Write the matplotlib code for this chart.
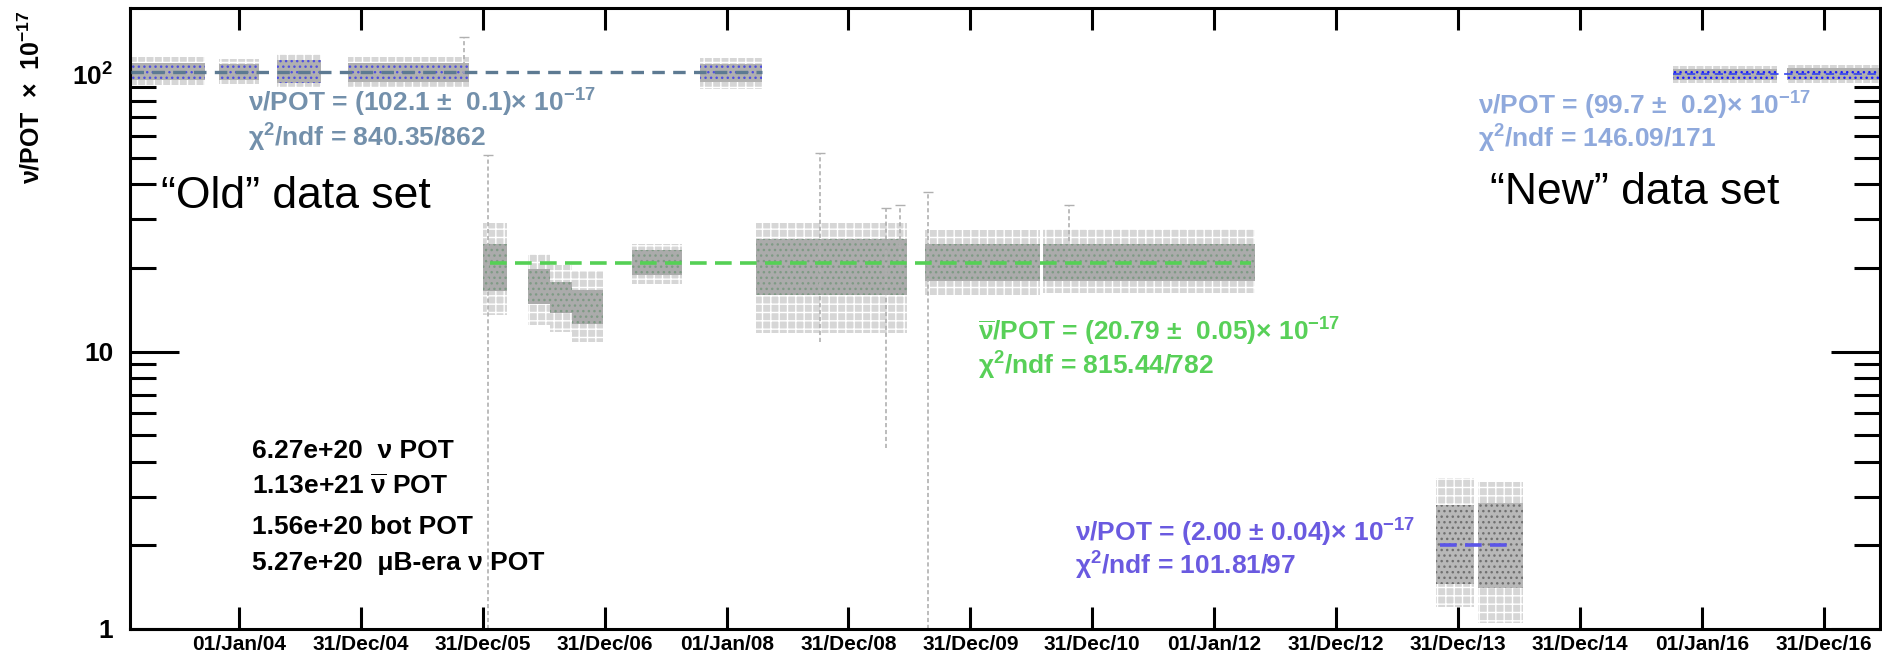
import numpy as np
import matplotlib.pyplot as plt
from matplotlib.ticker import FixedLocator, LogLocator, NullFormatter

plt.rcParams['font.family'] = ['Liberation Sans', 'DejaVu Sans']
plt.rcParams['mathtext.fontset'] = 'custom'
plt.rcParams['mathtext.rm'] = 'Liberation Sans:bold'
plt.rcParams['mathtext.it'] = 'Liberation Sans:bold'
plt.rcParams['mathtext.bf'] = 'Liberation Sans:bold'
plt.rcParams['lines.scale_dashes'] = False
plt.rcParams['hatch.linewidth'] = 1.0

# "Old" neutrino running (nu/POT around 100), spread of the points per run period
old_start = ['2003-02-12', '2003-11-02', '2004-04-24', '2004-11-23', '2007-10-13']
old_end = ['2003-09-21', '2004-03-01', '2004-09-03', '2005-11-20', '2008-04-16']
old_lo = [91, 92, 89, 90, 88]
old_hi = [115, 113, 118, 115, 114]
old_core_lo = [95, 95, 93, 94, 94]
old_core_hi = [110, 109, 112, 110, 109]
old_fit = 102.1
old_fit_range = ['2003-02-12', '2008-04-16']

# antineutrino running (nubar/POT around 20)
anu_start = ['2006-01-01', '2006-05-16', '2006-07-20', '2006-09-25', '2007-03-24', '2008-03-29',
             '2009-08-17', '2010-08-05']
anu_end = ['2006-03-14', '2006-07-20', '2006-09-25', '2006-12-27', '2007-08-20', '2009-06-23',
           '2010-07-27', '2012-05-02']
anu_lo = [13.5, 12.5, 11.8, 10.8, 17.5, 11.7, 16.0, 16.2]
anu_hi = [29.0, 22.5, 20.5, 19.5, 24.5, 29.0, 27.5, 27.7]
anu_core_lo = [16.5, 14.8, 13.8, 12.6, 18.8, 16.0, 18.0, 18.0]
anu_core_hi = [24.5, 19.8, 17.8, 16.6, 23.2, 25.5, 24.5, 24.5]
anu_fit = 20.79
anu_fit_range = ['2006-01-21', '2012-04-20']

# beam-off-target running (around 2)
bot_start = ['2013-10-28', '2014-03-02']
bot_end = ['2014-02-18', '2014-07-15']
bot_lo = [1.2, 1.05]
bot_hi = [3.5, 3.4]
bot_core_lo = [1.45, 1.4]
bot_core_hi = [2.8, 2.85]
bot_fit = 2.00
bot_fit_range = ['2013-11-09', '2014-06-08']

# "New" neutrino running (MicroBooNE era)
new_start = ['2015-10-08', '2016-09-13']
new_end = ['2016-08-14', '2017-06-24']
new_lo = [93, 93]
new_hi = [107, 108]
new_core_lo = [95.5, 95.5]
new_core_hi = [104, 105]
new_fit = 99.7
new_fit_range = ['2015-10-08', '2017-06-24']

# single points with long error bars
spike_date = ['2005-11-05', '2006-01-16', '2008-10-07', '2009-04-22', '2009-06-03', '2009-08-25', '2010-10-22']
spike_lo = [95, 1.0, 10.8, 4.5, 20, 1.0, 21]
spike_hi = [136, 51, 52, 33, 33.7, 37.5, 33.7]

tick_dates = ['2004-01-01', '2004-12-31', '2005-12-31', '2006-12-31', '2008-01-01', '2008-12-31',
              '2009-12-31', '2010-12-31', '2012-01-01', '2012-12-31', '2013-12-31', '2014-12-31',
              '2016-01-01', '2016-12-31']
tick_labels = ['01/Jan/04', '31/Dec/04', '31/Dec/05', '31/Dec/06', '01/Jan/08', '31/Dec/08',
               '31/Dec/09', '31/Dec/10', '01/Jan/12', '31/Dec/12', '31/Dec/13', '31/Dec/14',
               '01/Jan/16', '31/Dec/16']


def d(s):
    return np.array(s, dtype='datetime64[D]')


W, H = 1882, 654
fig = plt.figure(figsize=(W / 100, H / 100), dpi=100)
ax = fig.add_axes([130 / W, 25 / H, 1750 / W, 621 / H])
ax.set_yscale('log')


def draw_periods(starts, ends, lo, hi, clo, chi, core_color, dot_color):
    for s, e, a, b, c1, c2 in zip(starts, ends, lo, hi, clo, chi):
        x = d([s, e])
        # sparse outer part of the error bars
        ax.fill_between(x, a, b, facecolor='#d6d6d6', edgecolor='white', hatch='++', lw=0, zorder=1)
        # dense core with the points
        ax.fill_between(x, c1, c2, facecolor=core_color, edgecolor=dot_color, hatch='...', lw=0, zorder=2)


draw_periods(old_start, old_end, old_lo, old_hi, old_core_lo, old_core_hi, '#b0b0b0', '#4f4fe0')
draw_periods(anu_start, anu_end, anu_lo, anu_hi, anu_core_lo, anu_core_hi, '#ababab', '#7f9a85')
draw_periods(bot_start, bot_end, bot_lo, bot_hi, bot_core_lo, bot_core_hi, '#b8b8b8', '#707070')
draw_periods(new_start, new_end, new_lo, new_hi, new_core_lo, new_core_hi, '#b0b0b0', '#1a1aff')

ax.vlines(d(spike_date), spike_lo, spike_hi, colors='#b0b0b0', linestyles=(0, (3, 2)), lw=1.2, zorder=2)
ax.plot(d(spike_date), spike_hi, ls='none', marker='_', ms=7, color='#b0b0b0', zorder=2)

# fits
ax.plot(d(old_fit_range), [old_fit, old_fit], color='#5d7a92', lw=2.4, ls=(0, (9, 6)), zorder=3)
ax.plot(d(anu_fit_range), [anu_fit, anu_fit], color='#55d055', lw=2.6, ls=(0, (12, 6)), zorder=3)
ax.plot(d(bot_fit_range), [bot_fit, bot_fit], color='#5b55e8', lw=2.6, ls=(0, (12, 6)), zorder=3)
ax.plot(d(new_fit_range), [new_fit, new_fit], color='#3344ee', lw=1.2, ls=(0, (6, 4)), zorder=3)

ax.set_xlim(d('2003-02-08'), d('2017-06-18'))
ax.set_ylim(1, 173)

ax.set_xticks(d(tick_dates))
ax.set_xticklabels(tick_labels, fontsize=15, fontweight='bold')
ax.tick_params(axis='x', which='major', direction='in', length=16, width=2.2, top=True, bottom=True, pad=4)
ax.tick_params(axis='x', which='minor', bottom=False, top=False)

ax.yaxis.set_major_locator(FixedLocator([1, 10, 100]))
ax.set_yticklabels(['1', '10', '10$^2$'], fontsize=19, fontweight='bold')
ax.yaxis.set_minor_locator(LogLocator(base=10, subs=np.arange(2, 10), numticks=20))
ax.yaxis.set_minor_formatter(NullFormatter())
ax.tick_params(axis='y', which='major', direction='in', length=35, width=2.2, left=True, right=True, pad=12)
ax.tick_params(axis='y', which='minor', direction='in', length=19, width=2.2, left=True, right=True)
for sp in ax.spines.values():
    sp.set_linewidth(2.2)

fig.text(31 / W, 1 - 10 / H, 'ν/POT  ×  10$^{-17}$', rotation=90, ha='center', va='top',
         fontsize=18, fontweight='bold')


def label(px, py, s, color, size=19, weight='bold'):
    fig.text(px / W, 1 - py / H, s, color=color, fontsize=size, fontweight=weight, va='center', ha='left', zorder=5)


label(248, 103, 'ν/POT = (102.1 ±  0.1)× 10$^{-17}$', '#7390ab')
label(248, 138, 'χ$^2$/ndf = 840.35/862', '#7390ab')
label(978, 332, r'$\overline{\mathrm{ν}}$/POT = (20.79 ±  0.05)× 10$^{-17}$', '#58d058')
label(978, 366, 'χ$^2$/ndf = 815.44/782', '#58d058')
label(1075, 533, 'ν/POT = (2.00 ± 0.04)× 10$^{-17}$', '#6a5ae0')
label(1075, 566, 'χ$^2$/ndf = 101.81/97', '#6a5ae0')
label(1478, 106, 'ν/POT = (99.7 ±  0.2)× 10$^{-17}$', '#8fa9dc')
label(1478, 139, 'χ$^2$/ndf = 146.09/171', '#8fa9dc')

label(161, 197, '“Old” data set', 'black', size=32, weight='normal')
label(1490, 193, '“New” data set', 'black', size=32, weight='normal')

label(252, 451, '6.27e+20  ν POT', 'black')
label(252, 486, r'1.13e+21 $\overline{\mathrm{ν}}$ POT', 'black')
label(252, 527, '1.56e+20 bot POT', 'black')
label(252, 563, '5.27e+20  μB-era ν POT', 'black')

fig.savefig('out.png', dpi=100)
